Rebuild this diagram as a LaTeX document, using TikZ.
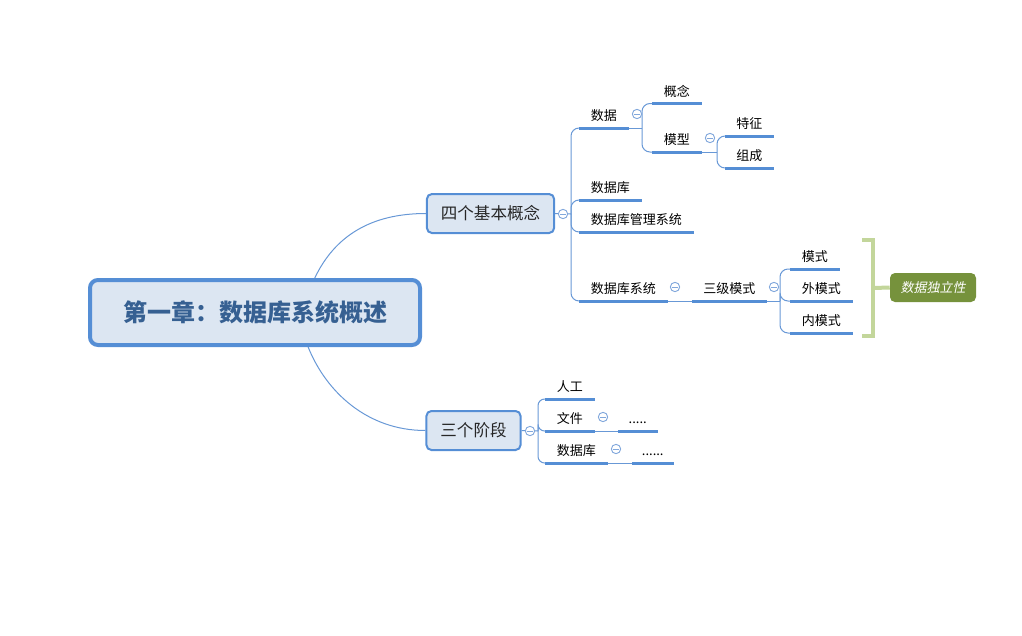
\documentclass[tikz,border=0pt]{standalone}
\usepackage{fontspec}
\setmainfont{Noto Sans CJK SC}
\newfontfamily\slantcjk{Noto Sans CJK SC}[FakeSlant=0.2]
\definecolor{boxblue}{RGB}{85,142,213}
\definecolor{boxfill}{RGB}{220,230,242}
\definecolor{roottext}{RGB}{54,96,146}
\definecolor{topictext}{RGB}{38,38,38}
\definecolor{ulblue}{RGB}{85,142,213}
\definecolor{linkblue}{RGB}{104,152,214}
\definecolor{foldblue}{RGB}{130,168,220}
\definecolor{bracegreen}{RGB}{195,214,155}
\definecolor{noteolive}{RGB}{118,146,60}

\begin{document}
\begin{tikzpicture}[
    x=0.75pt, y=-0.75pt,
    root/.style={draw=boxblue, line width=3pt, rounded corners=6pt, fill=boxfill, text=roottext,
        font=\bfseries\fontsize{18}{20}\selectfont, minimum width=247.5pt, minimum height=48.75pt},
    topic/.style={draw=boxblue, line width=1.5pt, rounded corners=3.75pt, fill=boxfill, text=topictext,
        font=\fontsize{12.4}{14}\selectfont, inner xsep=10.5pt, minimum height=29.25pt},
    leaf/.style={anchor=south west, font=\fontsize{9.75}{11}\selectfont, text height=10.6pt, text depth=0.2pt,
        inner sep=0pt, minimum height=21pt, minimum width=0.75pt*#1},
    uline/.style={draw=ulblue, line width=2.25pt},
    link/.style={draw=linkblue, line width=0.75pt},
    fold/.style={circle, draw=foldblue, fill=white, line width=0.7pt, inner sep=0pt, minimum size=7pt,
        path picture={\draw[foldblue, line width=0.7pt] ([xshift=1.6pt]path picture bounding box.west) -- ([xshift=-1.6pt]path picture bounding box.east);}},
    brace/.style={draw=bracegreen, line width=3pt},
    note/.style={fill=noteolive, rounded corners=3.75pt, text=white, font=\slantcjk\fontsize{9.75}{11}\selectfont,
        minimum width=64.5pt, minimum height=21.75pt, inner sep=0pt}
]
\useasboundingbox (0,0) rectangle (1022,636);

\node[root] (root) at (255,312.5) {第一章：数据库系统概述};
\node[topic] (sige) at (490.5,213.5) {四个基本概念};
\node[topic] (sanjie) at (473.5,430.5) {三个阶段};

\node[leaf=49] (shuju) at (579,128) {数据};
\node[leaf=62] (sjk) at (579,200) {数据库};
\node[leaf=114] (dbms) at (579,232) {数据库管理系统};
\node[leaf=88] (dbs) at (579,301) {数据库系统};
\node[leaf=49] (gainian) at (652,103.5) {概念};
\node[leaf=49] (moxing) at (652,152) {模型};
\node[leaf=48] (tezheng) at (725,136) {特征};
\node[leaf=48] (zucheng) at (725,168) {组成};
\node[leaf=74] (sanji) at (692,301) {三级模式};
\node[leaf=49] (ms) at (790,269) {模式};
\node[leaf=62] (wms) at (790,301) {外模式};
\node[leaf=62] (nms) at (790,333) {内模式};
\node[leaf=49] (rengong) at (545,399) {人工};
\node[leaf=49] (wenjian) at (545,431) {文件};
\node[leaf=39] (dots1) at (618,431) {.....};
\node[leaf=62] (sjk2) at (545,463) {数据库};
\node[leaf=41] (dots2) at (632,463) {......};
\node[note] (dli) at (933,287.5) {数据独立性};

\coordinate (b1) at (571,214);
\coordinate (b2) at (642,128);
\coordinate (b3) at (717,152);
\coordinate (b4) at (780,301);
\coordinate (b5) at (538,431);
\coordinate (brk) at (873,288);

\draw[link] (root.30) .. controls +(20,-42) and +(-55,0) .. (sige.west);
\draw[link] (root.-33) .. controls +(18,45) and +(-58,0) .. (sanjie.west);

\draw[link] (sige.east) -- (b1);
\foreach \n in {shuju,sjk,dbms,dbs}
    \draw[link, rounded corners=6pt] (b1) |- (\n.south west);
\draw[link] (shuju.south east) -- (b2);
\foreach \n in {gainian,moxing}
    \draw[link, rounded corners=6pt] (b2) |- (\n.south west);
\draw[link] (moxing.south east) -- (b3);
\foreach \n in {tezheng,zucheng}
    \draw[link, rounded corners=6pt] (b3) |- (\n.south west);
\draw[link] (dbs.south east) -- (sanji.south west);
\draw[link] (sanji.south east) -- (b4);
\foreach \n in {ms,wms,nms}
    \draw[link, rounded corners=6pt] (b4) |- (\n.south west);

\draw[link] (sanjie.east) -- (b5);
\foreach \n in {rengong,wenjian,sjk2}
    \draw[link, rounded corners=5pt] (b5) |- (\n.south west);
\draw[link] (wenjian.south east) -- (dots1.south west);
\draw[link] (sjk2.south east) -- (dots2.south west);

\foreach \n in {shuju,sjk,dbms,dbs,gainian,moxing,tezheng,zucheng,sanji,ms,wms,nms,rengong,wenjian,dots1,sjk2,dots2}
    \draw[uline] (\n.south west) -- (\n.south east);

\node[fold] (fsige) at (563,214) {};
\node[fold] (fsanjie) at (530,431) {};
\node[fold] (fshuju) at (637,114) {};
\node[fold] (fmoxing) at (710,138) {};
\node[fold] (fdbs) at (675,287) {};
\node[fold] (fsanji) at (774,287) {};
\node[fold] (fwenjian) at (603,417) {};
\node[fold] (fsjk2) at (616,449) {};

\draw[brace] (862,240) -- (873,240) -- (873,336) -- (862,336);
\draw[brace] (brk) -- (dli.west);
\end{tikzpicture}
\end{document}
